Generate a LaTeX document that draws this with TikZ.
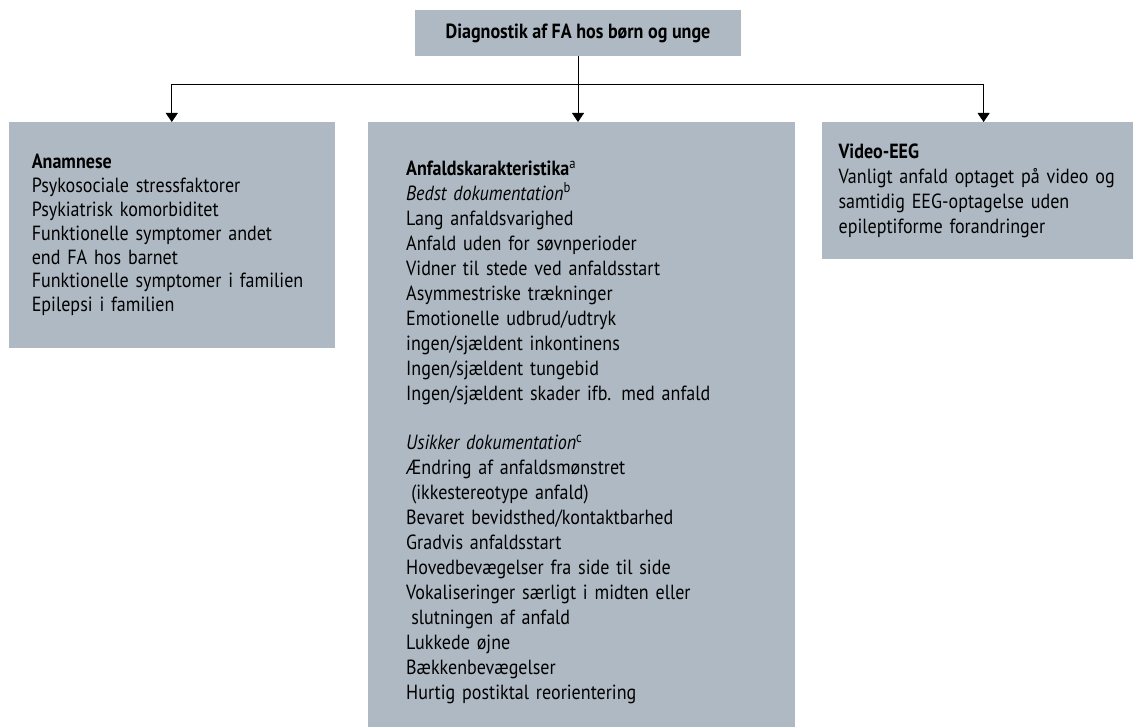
\documentclass[tikz,border=0pt]{standalone}
\usepackage{fontspec}
\setmainfont{PT Sans}[FakeStretch=0.88]
\usepackage{tikz}
\usetikzlibrary{arrows.meta, positioning}
\definecolor{boxgrey}{RGB}{174,185,195}

\begin{document}
\begin{tikzpicture}[x=1pt, y=-1pt, every node/.style={fill=boxgrey, inner ysep=0pt, align=left, font=\fontsize{20.5}{24.6}\selectfont}]
\useasboundingbox (0,0) rectangle (1133,727);

\node (title) [minimum width=326pt, minimum height=46pt, align=center] at (578,33) {\textbf{Diagnostik af FA hos børn og unge}};
\node (signs) [anchor=north west, inner xsep=38pt, text width=351pt, minimum height=605pt, font=\fontsize{20.5}{24.95}\selectfont] at (368,122) {\rule{0pt}{30pt}\textbf{Anfaldskarakteristika}\textsuperscript{a}\\
\textit{Bedst dokumentation}\textsuperscript{b}\\
Lang anfaldsvarighed\\
Anfald uden for søvnperioder\\
Vidner til stede ved anfaldsstart\\
Asymmestriske trækninger\\
Emotionelle udbrud/udtryk\\
ingen/sjældent inkontinens\\
Ingen/sjældent tungebid\\
Ingen/sjældent skader ifb. med anfald\\[24.95pt]
\textit{Usikker dokumentation}\textsuperscript{c}\\
Ændring af anfaldsmønstret\\
\hspace*{0.25em}(ikkestereotype anfald)\\
Bevaret bevidsthed/kontaktbarhed\\
Gradvis anfaldsstart\\
Hovedbevægelser fra side til side\\
Vokaliseringer særligt i midten eller\\
\hspace*{0.25em}slutningen af anfald\\
Lukkede øjne\\
Bækkenbevægelser\\
Hurtig postiktal reorientering};
\node (history) [left=33pt of signs.north west, anchor=north east, inner xsep=23pt, text width=280pt, minimum height=226pt, font=\fontsize{20.5}{23.8}\selectfont] {\textbf{Anamnese}\\
Psykosociale stressfaktorer\\
Psykiatrisk komorbiditet\\
Funktionelle symptomer andet\\
end FA hos barnet\\
Funktionelle symptomer i familien\\
Epilepsi i familien};
\node (eeg) [right=26pt of signs.north east, anchor=north west, inner xsep=17pt, text width=278pt, minimum height=137pt, font=\fontsize{20.5}{25}\selectfont] {\textbf{Video-EEG}\\
Vanligt anfald optaget på video og\\
samtidig EEG-optagelse uden\\
epileptiforme forandringer};

\coordinate (split) at (578,84);
\draw [thick] (title) -- (split);
\draw [-{Triangle[width=12pt,length=9pt]}, thick] (split) -| (history.north);
\draw [-{Triangle[width=12pt,length=9pt]}, thick] (split) -- (split |- signs.north);
\draw [-{Triangle[width=12pt,length=9pt]}, thick] (split) -| ([xshift=6pt]eeg.north);
\end{tikzpicture}
\end{document}
